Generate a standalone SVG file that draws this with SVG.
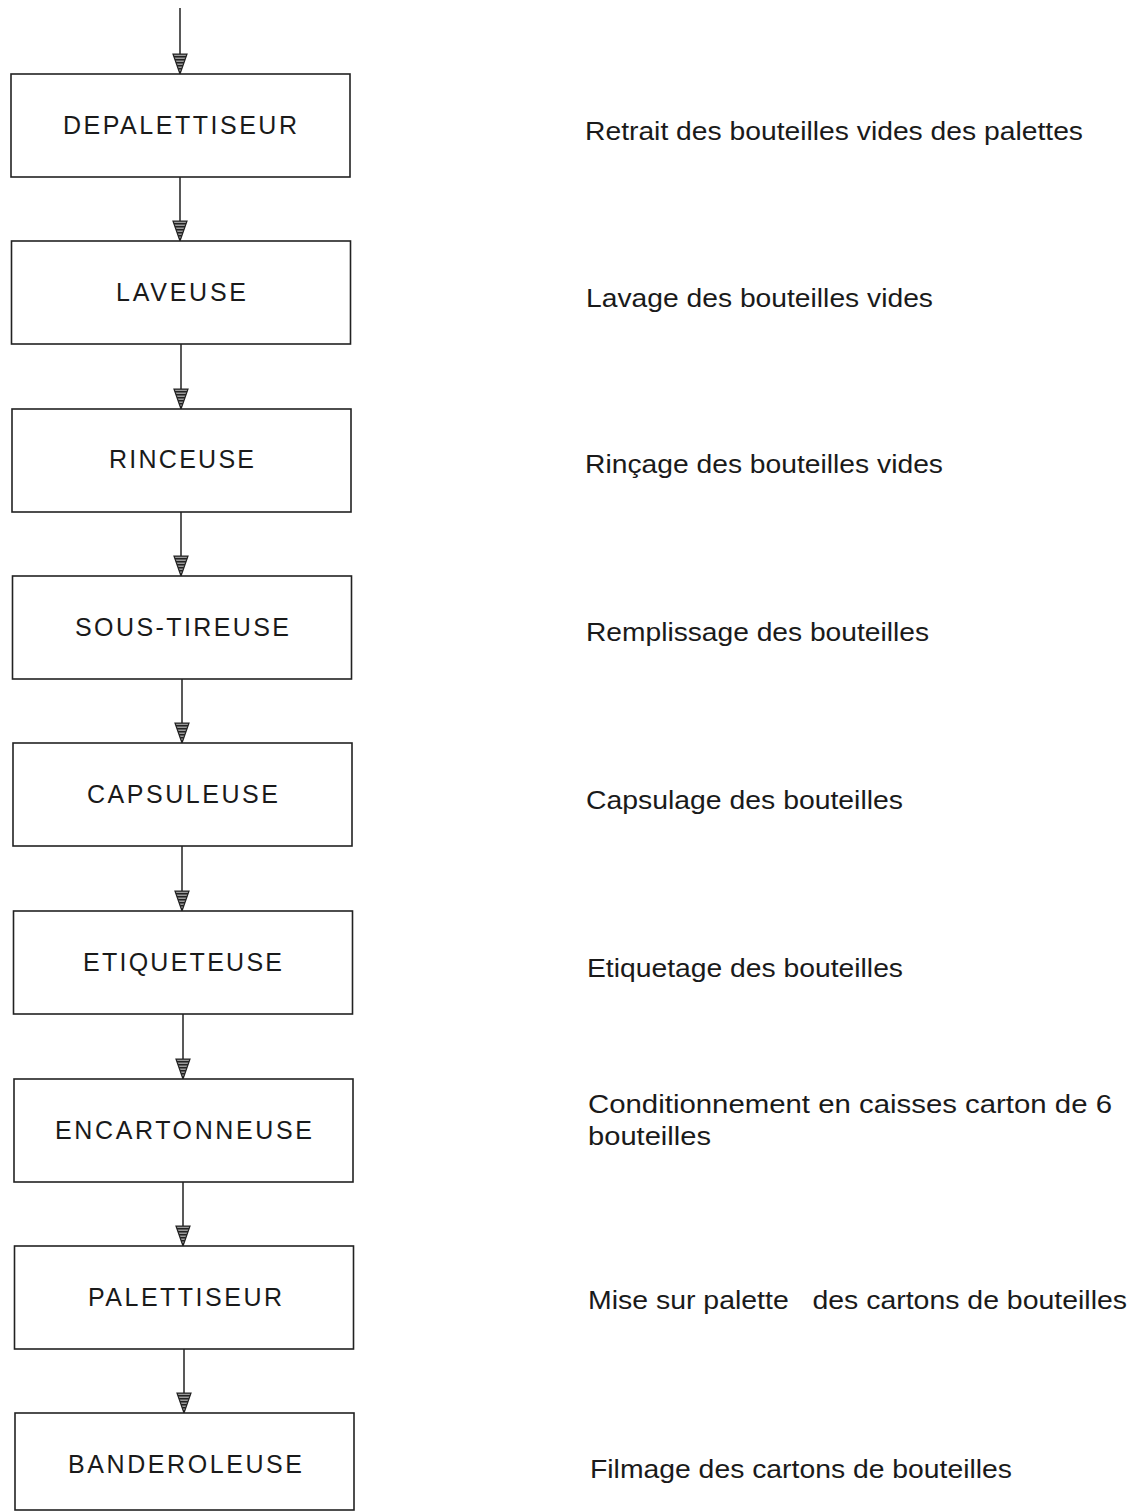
<svg xmlns="http://www.w3.org/2000/svg" width="1133" height="1512" viewBox="0 0 1133 1512">
<style>
.box{fill:#fff;stroke:#222;stroke-width:1.6}
.lbl{font-family:"Liberation Sans",Arial,sans-serif;font-size:25px;fill:#1a1a1a}
.desc{font-family:"Liberation Sans",Arial,sans-serif;font-size:26px;fill:#1a1a1a;white-space:pre}
.conn{stroke:#222;stroke-width:1.5;fill:none;marker-end:url(#ah)}
</style>
<defs>
<pattern id="hatch" width="3" height="4" patternUnits="userSpaceOnUse">
<rect width="3" height="4" fill="#999"/>
<rect width="1.5" height="4" fill="#222"/>
</pattern>
<marker id="ah" markerWidth="22" markerHeight="16" refX="21" refY="8" orient="auto" markerUnits="userSpaceOnUse" viewBox="0 0 22 16">
<path d="M1,1 L21,8 L1,15 Z" fill="url(#hatch)" stroke="#222" stroke-width="1.2"/>
</marker>
</defs>
<rect width="1133" height="1512" fill="#fff"/>
<g id="connectors">
<line class="conn" x1="180" y1="8" x2="180" y2="74"/>
<line class="conn" x1="180" y1="177" x2="180" y2="241"/>
<line class="conn" x1="181" y1="344" x2="181" y2="409"/>
<line class="conn" x1="181" y1="512" x2="181" y2="576"/>
<line class="conn" x1="182" y1="679" x2="182" y2="743"/>
<line class="conn" x1="182" y1="846" x2="182" y2="911"/>
<line class="conn" x1="183" y1="1014" x2="183" y2="1079"/>
<line class="conn" x1="183" y1="1182" x2="183" y2="1246"/>
<line class="conn" x1="184" y1="1349" x2="184" y2="1413"/>
</g>
<g id="n1"><rect class="box" x="11" y="74" width="339" height="103"/><text class="lbl" x="63" y="134" textLength="234" lengthAdjust="spacing">DEPALETTISEUR</text></g>
<g id="n2"><rect class="box" x="11.5" y="241" width="339" height="103"/><text class="lbl" x="116" y="301" textLength="130" lengthAdjust="spacing">LAVEUSE</text></g>
<g id="n3"><rect class="box" x="12" y="409" width="339" height="103"/><text class="lbl" x="109" y="468" textLength="145" lengthAdjust="spacing">RINCEUSE</text></g>
<g id="n4"><rect class="box" x="12.5" y="576" width="339" height="103"/><text class="lbl" x="75" y="636" textLength="214" lengthAdjust="spacing">SOUS-TIREUSE</text></g>
<g id="n5"><rect class="box" x="13" y="743" width="339" height="103"/><text class="lbl" x="87" y="803" textLength="191" lengthAdjust="spacing">CAPSULEUSE</text></g>
<g id="n6"><rect class="box" x="13.5" y="911" width="339" height="103"/><text class="lbl" x="83" y="971" textLength="199" lengthAdjust="spacing">ETIQUETEUSE</text></g>
<g id="n7"><rect class="box" x="14" y="1079" width="339" height="103"/><text class="lbl" x="55" y="1139" textLength="257" lengthAdjust="spacing">ENCARTONNEUSE</text></g>
<g id="n8"><rect class="box" x="14.5" y="1246" width="339" height="103"/><text class="lbl" x="88" y="1306" textLength="194" lengthAdjust="spacing">PALETTISEUR</text></g>
<g id="n9"><rect class="box" x="15" y="1413" width="339" height="97"/><text class="lbl" x="68" y="1473" textLength="234" lengthAdjust="spacing">BANDEROLEUSE</text></g>
<g id="descriptions">
<text class="desc" x="585" y="140" textLength="498" lengthAdjust="spacingAndGlyphs">Retrait des bouteilles vides des palettes</text>
<text class="desc" x="586" y="307" textLength="347" lengthAdjust="spacingAndGlyphs">Lavage des bouteilles vides</text>
<text class="desc" x="585" y="473" textLength="358" lengthAdjust="spacingAndGlyphs">Rinçage des bouteilles vides</text>
<text class="desc" x="586" y="641" textLength="343" lengthAdjust="spacingAndGlyphs">Remplissage des bouteilles</text>
<text class="desc" x="586" y="809" textLength="317" lengthAdjust="spacingAndGlyphs">Capsulage des bouteilles</text>
<text class="desc" x="587" y="977" textLength="316" lengthAdjust="spacingAndGlyphs">Etiquetage des bouteilles</text>
<text class="desc" x="588" y="1113" textLength="524" lengthAdjust="spacingAndGlyphs">Conditionnement en caisses carton de 6</text>
<text class="desc" x="588" y="1145" textLength="123" lengthAdjust="spacingAndGlyphs">bouteilles</text>
<text class="desc" x="588" y="1309" textLength="539" lengthAdjust="spacingAndGlyphs">Mise sur palette   des cartons de bouteilles</text>
<text class="desc" x="590" y="1478" textLength="422" lengthAdjust="spacingAndGlyphs">Filmage des cartons de bouteilles</text>
</g>
</svg>
